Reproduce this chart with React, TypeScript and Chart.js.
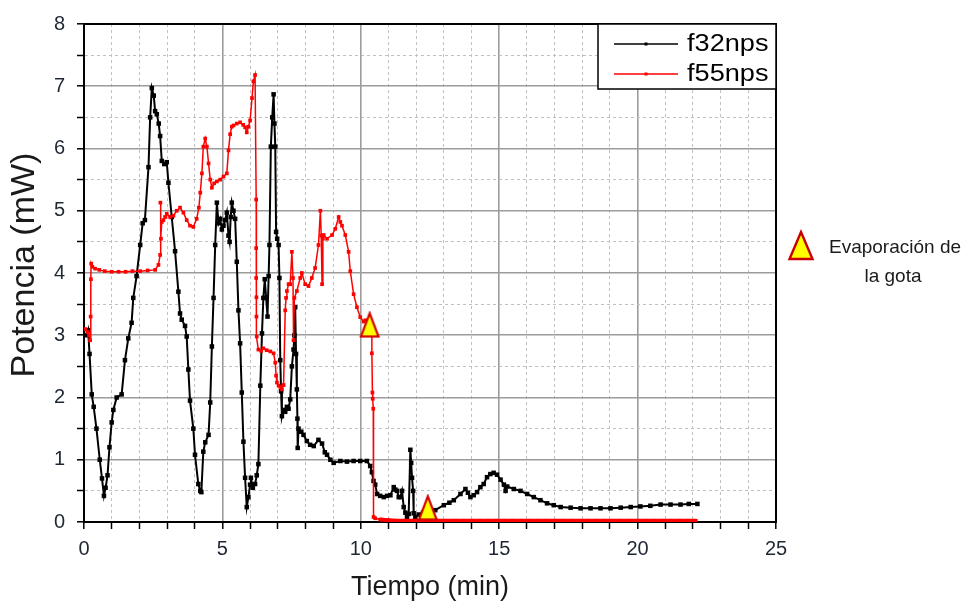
import React, { useEffect, useRef } from 'react';
import { Chart, registerables } from 'chart.js';

Chart.register(...registerables);

// ---------- data ----------
const f32Time = [
  0.10, 0.15, 0.20, 0.28, 0.35, 0.45, 0.57, 0.65, 0.72, 0.78,
  0.85, 0.92, 1.00, 1.06, 1.18, 1.36, 1.48, 1.60, 1.72, 1.78,
  1.90, 2.03, 2.12, 2.20, 2.33, 2.39, 2.45, 2.52, 2.57, 2.63,
  2.70, 2.75, 2.81, 2.90, 2.99, 3.05, 3.17, 3.29, 3.41, 3.47,
  3.53, 3.65, 3.71, 3.77, 3.83, 3.95, 4.01, 4.13, 4.20, 4.24,
  4.31, 4.38, 4.50, 4.56, 4.62, 4.68, 4.74, 4.80, 4.86, 4.92,
  4.98, 5.04, 5.10, 5.16, 5.22, 5.26, 5.30, 5.34, 5.40, 5.46,
  5.52, 5.58, 5.64, 5.70, 5.76, 5.82, 5.88, 5.94, 6.00, 6.03,
  6.10, 6.18, 6.24, 6.30, 6.37, 6.43, 6.48, 6.53, 6.58, 6.63,
  6.67, 6.70, 6.75, 6.80, 6.85, 6.88, 6.91, 6.94, 6.98, 7.03,
  7.06, 7.09, 7.12, 7.15, 7.20, 7.27, 7.33, 7.39, 7.45, 7.51,
  7.57, 7.60, 7.63, 7.66, 7.69, 7.71, 7.72, 7.75, 7.85, 7.93,
  8.05, 8.17, 8.30, 8.47, 8.60, 8.70, 8.78, 8.90, 9.02, 9.26,
  9.50, 9.74, 9.98, 10.22, 10.34, 10.40, 10.46, 10.52, 10.59, 10.70,
  10.83, 10.95, 11.07, 11.19, 11.25, 11.31, 11.37, 11.43, 11.49, 11.55,
  11.61, 11.67, 11.73, 11.79, 11.82, 11.85, 11.89, 11.91, 11.97, 12.09,
  12.25, 12.45, 12.69, 13.00, 13.20, 13.36, 13.60, 13.78, 13.87, 13.96,
  14.08, 14.20, 14.32, 14.44, 14.56, 14.68, 14.80, 14.92, 15.05, 15.17,
  15.23, 15.29, 15.53, 15.77, 16.01, 16.25, 16.49, 16.73, 16.97, 17.22,
  17.58, 17.94, 18.30, 18.66, 19.02, 19.39, 19.75, 20.10, 20.46, 20.83,
  21.19, 21.55, 21.85, 22.16,
];
const f32Power = [
  3.00, 3.08, 2.70, 2.05, 1.85, 1.50, 1.00, 0.70, 0.42, 0.55,
  0.75, 1.20, 1.60, 1.80, 2.00, 2.05, 2.60, 2.95, 3.20, 3.60,
  3.95, 4.45, 4.80, 4.85, 5.70, 6.50, 6.97, 6.85, 6.60, 6.55,
  6.40, 6.20, 5.80, 5.75, 5.78, 5.45, 4.90, 4.35, 3.70, 3.35,
  3.25, 3.15, 2.98, 2.45, 1.95, 1.50, 1.08, 0.61, 0.50, 0.48,
  1.13, 1.28, 1.40, 1.92, 2.82, 3.60, 4.45, 5.13, 4.80, 4.87,
  4.70, 4.76, 4.85, 4.97, 4.60, 4.50, 4.90, 5.13, 5.00, 4.87,
  4.18, 3.40, 2.87, 2.08, 1.29, 0.71, 0.24, 0.40, 0.60, 0.71,
  0.55, 0.61, 0.75, 0.93, 2.19, 3.03, 3.60, 3.90, 3.60, 3.30,
  3.95, 4.45, 6.03, 6.50, 6.87, 6.40, 6.03, 4.66, 4.55, 4.45,
  3.92, 2.60, 2.10, 1.70, 1.80, 1.77, 1.85, 1.82, 1.97, 2.50,
  2.77, 3.00, 3.45, 2.70, 2.13, 1.66, 1.19, 1.50, 1.45, 1.40,
  1.30, 1.24, 1.22, 1.32, 1.26, 1.12, 1.08, 1.00, 0.95, 0.98,
  0.97, 0.98, 0.98, 0.98, 0.90, 0.80, 0.66, 0.60, 0.45, 0.42,
  0.40, 0.42, 0.43, 0.56, 0.52, 0.50, 0.40, 0.40, 0.50, 0.24,
  0.15, 0.08, 0.13, 1.16, 0.95, 0.71, 0.50, 0.14, 0.08, 0.12,
  0.15, 0.17, 0.19, 0.27, 0.31, 0.35, 0.45, 0.53, 0.47, 0.40,
  0.43, 0.48, 0.56, 0.61, 0.72, 0.77, 0.79, 0.76, 0.68, 0.60,
  0.50, 0.57, 0.53, 0.50, 0.45, 0.40, 0.35, 0.30, 0.27, 0.24,
  0.23, 0.22, 0.22, 0.22, 0.22, 0.23, 0.24, 0.25, 0.26, 0.28,
  0.28, 0.28, 0.29, 0.29,
];

const f55Time = [
  0.05, 0.12, 0.18, 0.22, 0.24, 0.25, 0.26, 0.30, 0.40, 0.55,
  0.75, 1.00, 1.25, 1.50, 1.75, 2.03, 2.30, 2.57, 2.69, 2.75,
  2.76, 2.78, 2.81, 2.87, 2.93, 2.99, 3.11, 3.23, 3.35, 3.47,
  3.59, 3.71, 3.83, 3.95, 4.07, 4.15, 4.20, 4.26, 4.31, 4.38,
  4.44, 4.50, 4.56, 4.62, 4.70, 4.80, 4.92, 5.04, 5.16, 5.22,
  5.28, 5.34, 5.40, 5.52, 5.64, 5.75, 5.82, 5.88, 5.94, 6.00,
  6.07, 6.12, 6.18, 6.22, 6.22, 6.22, 6.23, 6.23, 6.24, 6.30,
  6.40, 6.48, 6.60, 6.73, 6.85, 6.91, 6.94, 6.97, 7.03, 7.09,
  7.15, 7.21, 7.27, 7.30, 7.33, 7.39, 7.45, 7.51, 7.55, 7.57,
  7.60, 7.69, 7.81, 7.87, 7.99, 8.11, 8.23, 8.35, 8.47, 8.54,
  8.57, 8.60, 8.63, 8.66, 8.78, 8.96, 9.08, 9.20, 9.26, 9.32,
  9.44, 9.56, 9.62, 9.74, 9.86, 9.98, 10.10, 10.16, 10.30, 10.40,
  10.40, 10.42, 10.43, 10.45, 10.46, 10.52, 10.70, 11.00, 11.30, 11.60,
  11.90, 12.20, 12.50, 12.80, 13.10, 13.40, 13.70, 14.00, 14.30, 14.60,
  14.90, 15.20, 15.50, 15.80, 16.10, 16.40, 16.70, 17.00, 17.30, 17.60,
  17.90, 18.20, 18.50, 18.80, 19.10, 19.40, 19.70, 20.00, 20.30, 20.60,
  20.90, 21.20, 21.50, 21.80, 22.10,
];
const f55Power = [
  3.10, 3.05, 3.00, 2.92, 3.30, 3.90, 4.15, 4.10, 4.07, 4.05,
  4.03, 4.02, 4.02, 4.02, 4.03, 4.03, 4.04, 4.05, 4.13, 4.29,
  5.13, 4.55, 4.82, 4.85, 4.90, 4.95, 4.90, 4.92, 5.00, 5.05,
  4.97, 4.85, 4.76, 4.74, 4.87, 5.05, 5.29, 5.60, 6.03, 6.16,
  6.03, 5.76, 5.50, 5.37, 5.44, 5.47, 5.50, 5.55, 5.60, 5.97,
  6.23, 6.35, 6.37, 6.40, 6.42, 6.38, 6.34, 6.26, 6.35, 6.45,
  6.81, 7.08, 7.18, 5.18, 4.40, 3.92, 3.61, 3.30, 2.98, 2.77,
  2.75, 2.79, 2.76, 2.74, 2.71, 2.56, 2.35, 2.24, 2.19, 2.17,
  2.13, 2.20, 3.40, 3.60, 3.71, 3.82, 3.82, 4.34, 3.92, 2.92,
  3.60, 3.71, 3.92, 4.00, 3.82, 3.79, 3.92, 4.08, 4.45, 5.00,
  4.60, 3.82, 4.55, 4.61, 4.55, 4.61, 4.71, 4.90, 4.82, 4.76,
  4.61, 4.34, 4.03, 3.66, 3.45, 3.29, 3.22, 3.24, 3.20, 3.10,
  2.71, 2.08, 1.98, 1.82, 0.08, 0.06, 0.04, 0.03, 0.02, 0.02,
  0.02, 0.02, 0.02, 0.02, 0.02, 0.02, 0.02, 0.02, 0.02, 0.02,
  0.02, 0.02, 0.02, 0.02, 0.02, 0.02, 0.02, 0.02, 0.02, 0.02,
  0.02, 0.02, 0.02, 0.02, 0.02, 0.02, 0.02, 0.02, 0.02, 0.02,
  0.02, 0.02, 0.02, 0.02, 0.02,
];

// droplet-evaporation markers
const eventTime = [10.32, 12.42];
const eventPower = [3.17, 0.23];

const seriesLabels = ['f32nps', 'f55nps'];
const noteLines = ['Evaporación de', 'la gota'];
const xTitle = 'Tiempo (min)';
const yTitle = 'Potencia (mW)';
const xRange = [0, 25];
const yRange = [0, 8];
const xMajorEvery = 5;

// ---------- styling ----------
const FONT = '"Liberation Sans", Arial, Helvetica, sans-serif';
const NOTE_FONT = '"Liberation Sans", Arial, sans-serif';
const TICK_COLOR = '#1f2733';
const MAJOR_GRID = '#9c9c9c';
const MINOR_GRID = '#c0c0c0';

function trianglePath(ctx: CanvasRenderingContext2D, cx: number, top: number, halfW: number, bottom: number) {
  ctx.beginPath();
  ctx.moveTo(cx, top);
  ctx.lineTo(cx + halfW, bottom);
  ctx.lineTo(cx - halfW, bottom);
  ctx.closePath();
}

function makeTriangleImage(w: number, h: number): HTMLCanvasElement {
  const c = document.createElement('canvas');
  c.width = w;
  c.height = h;
  const g = c.getContext('2d')!;
  const lw = 2.2;
  trianglePath(g, w / 2, lw, w / 2 - lw, h - lw / 2 - 0.5);
  g.fillStyle = '#ffff00';
  g.fill();
  g.lineJoin = 'miter';
  g.strokeStyle = '#d40000';
  g.lineWidth = lw;
  g.stroke();
  return c;
}

const overlayPlugin = {
  id: 'overlayPlugin',
  afterDatasetsDraw(chart: any) {
    const { ctx, chartArea: a } = chart;
    ctx.save();
    // top / right frame
    ctx.strokeStyle = '#000';
    ctx.lineWidth = 2;
    ctx.beginPath();
    ctx.moveTo(a.left - 1, a.top);
    ctx.lineTo(a.right, a.top);
    ctx.lineTo(a.right, a.bottom + 1);
    ctx.stroke();

    // legend box
    const bw = 178;
    const bh = 65;
    const bx = a.right - bw;
    const by = a.top;
    ctx.fillStyle = '#fff';
    ctx.fillRect(bx, by, bw, bh);
    ctx.lineWidth = 1.5;
    ctx.strokeStyle = '#000';
    ctx.strokeRect(bx, by, bw, bh);

    seriesLabels.forEach((label, i) => {
      const ds = chart.data.datasets.find((d: any) => d.label === label);
      if (!ds) return;
      const y = by + 20 + i * 30;
      ctx.strokeStyle = ds.borderColor;
      ctx.lineWidth = 1.3;
      ctx.beginPath();
      ctx.moveTo(bx + 16, y);
      ctx.lineTo(bx + 80, y);
      ctx.stroke();
      ctx.fillStyle = ds.borderColor;
      ctx.fillRect(bx + 46.5, y - 1.5, 3, 3);
      ctx.save();
      ctx.translate(bx + 89, y);
      ctx.scale(1.18, 1);
      ctx.fillStyle = '#000';
      ctx.font = `23px ${FONT}`;
      ctx.textAlign = 'left';
      ctx.textBaseline = 'middle';
      ctx.fillText(label, 0, 1);
      ctx.restore();
    });

    // external note: triangle + text
    const tx = a.right + 25;
    trianglePath(ctx, tx, a.top + 208, 11.5, a.top + 235);
    ctx.fillStyle = '#ffff00';
    ctx.fill();
    ctx.strokeStyle = '#c80000';
    ctx.lineWidth = 2.4;
    ctx.stroke();

    ctx.fillStyle = '#1a1a1a';
    ctx.font = `19px ${NOTE_FONT}`;
    ctx.textAlign = 'center';
    ctx.textBaseline = 'middle';
    ctx.fillText(noteLines[0], a.right + 119, a.top + 224);
    ctx.fillText(noteLines[1], a.right + 117, a.top + 253);

    // y-axis title (drawn here to match its offset in the reference)
    ctx.save();
    ctx.translate(25, (a.top + a.bottom) / 2 - 8);
    ctx.rotate(-Math.PI / 2);
    ctx.fillStyle = '#1a1a1a';
    ctx.font = `34px ${FONT}`;
    ctx.textAlign = 'center';
    ctx.textBaseline = 'middle';
    ctx.fillText(yTitle, 0, 0);
    ctx.restore();

    ctx.restore();
  },
};

function zip(xs: number[], ys: number[]) {
  return xs.map((x, i) => ({ x, y: ys[i] }));
}

export default function App() {
  const canvasRef = useRef<HTMLCanvasElement | null>(null);

  useEffect(() => {
    const canvas = canvasRef.current;
    if (!canvas) return;
    const tri = makeTriangleImage(22, 27);

    const isMajorX = (c: any) => c.tick && Math.abs(c.tick.value % xMajorEvery) < 1e-9;
    const isMajorY = (c: any) => c.tick && Number.isInteger(c.tick.value);

    const chart = new Chart(canvas, {
      type: 'line',
      data: {
        datasets: [
          {
            label: 'Evaporación de la gota',
            data: zip(eventTime, eventPower),
            showLine: false,
            pointStyle: tri as any,
            pointRadius: 12,
            order: 0,
          } as any,
          {
            label: seriesLabels[1],
            data: zip(f55Time, f55Power),
            borderColor: '#ff0000',
            backgroundColor: '#ff0000',
            borderWidth: 1.5,
            pointStyle: 'rect',
            pointRadius: 2.6,
            pointBorderWidth: 0,
            tension: 0,
            order: 1,
            segment: {
              // dense run of samples on the baseline looks like a thick band
              borderWidth: (s: any) => (s.p0.parsed.y < 0.05 && s.p1.parsed.y < 0.05 ? 4 : 1.5),
            },
          },
          {
            label: seriesLabels[0],
            data: zip(f32Time, f32Power),
            borderColor: '#000000',
            backgroundColor: '#000000',
            borderWidth: 2,
            pointStyle: 'rect',
            pointRadius: 3.2,
            pointBorderWidth: 0,
            tension: 0,
            order: 2,
          },
        ],
      },
      options: {
        animation: false,
        responsive: false,
        events: [],
        layout: { padding: { left: 0, top: 15, right: 187, bottom: 0 } },
        plugins: {
          legend: { display: false },
          tooltip: { enabled: false },
        },
        scales: {
          x: {
            type: 'linear',
            min: xRange[0],
            max: xRange[1],
            afterFit: (s: any) => {
              s.height = 80;
            },
            ticks: {
              stepSize: 1,
              autoSkip: false,
              maxRotation: 0,
              padding: 8,
              color: TICK_COLOR,
              font: { size: 20, family: FONT },
              callback: (v: any) => (Math.abs(Number(v) % xMajorEvery) < 1e-9 ? String(v) : ''),
            },
            grid: {
              color: (c: any) => (isMajorX(c) ? MAJOR_GRID : MINOR_GRID),
              lineWidth: (c: any) => (isMajorX(c) ? 1.6 : 1),
              tickColor: '#000',
              tickLength: 7,
              tickWidth: 1.5,
            },
            border: {
              display: true,
              color: '#000',
              width: 2,
              dash: (c: any) => (c.tick && !isMajorX(c) ? [3, 3] : []),
            } as any,
            title: {
              display: true,
              text: xTitle,
              color: '#1a1a1a',
              font: { size: 27, family: FONT },
              padding: { top: 0, bottom: -2 },
            },
          },
          y: {
            type: 'linear',
            min: yRange[0],
            max: yRange[1],
            afterFit: (s: any) => {
              s.width = 84;
            },
            ticks: {
              stepSize: 0.5,
              autoSkip: false,
              padding: 12,
              color: TICK_COLOR,
              font: { size: 20, family: FONT },
              callback: (v: any) => (Number.isInteger(Number(v)) ? String(v) : ''),
            },
            grid: {
              color: (c: any) => (isMajorY(c) ? MAJOR_GRID : MINOR_GRID),
              lineWidth: (c: any) => (isMajorY(c) ? 1.6 : 1),
              tickColor: '#000',
              tickLength: 7,
              tickWidth: 1.5,
            },
            border: {
              display: true,
              color: '#000',
              width: 2,
              dash: (c: any) => (c.tick && !isMajorY(c) ? [3, 3] : []),
            } as any,
            title: { display: false },
          },
        },
      },
      plugins: [overlayPlugin],
    } as any);

    return () => {
      chart.destroy();
    };
  }, []);

  return (
    <div style={{ position: 'absolute', left: 0, top: 0, width: 963, height: 602, background: '#fff' }}>
      <canvas ref={canvasRef} width={963} height={602} style={{ width: 963, height: 602, display: 'block' }} />
    </div>
  );
}
